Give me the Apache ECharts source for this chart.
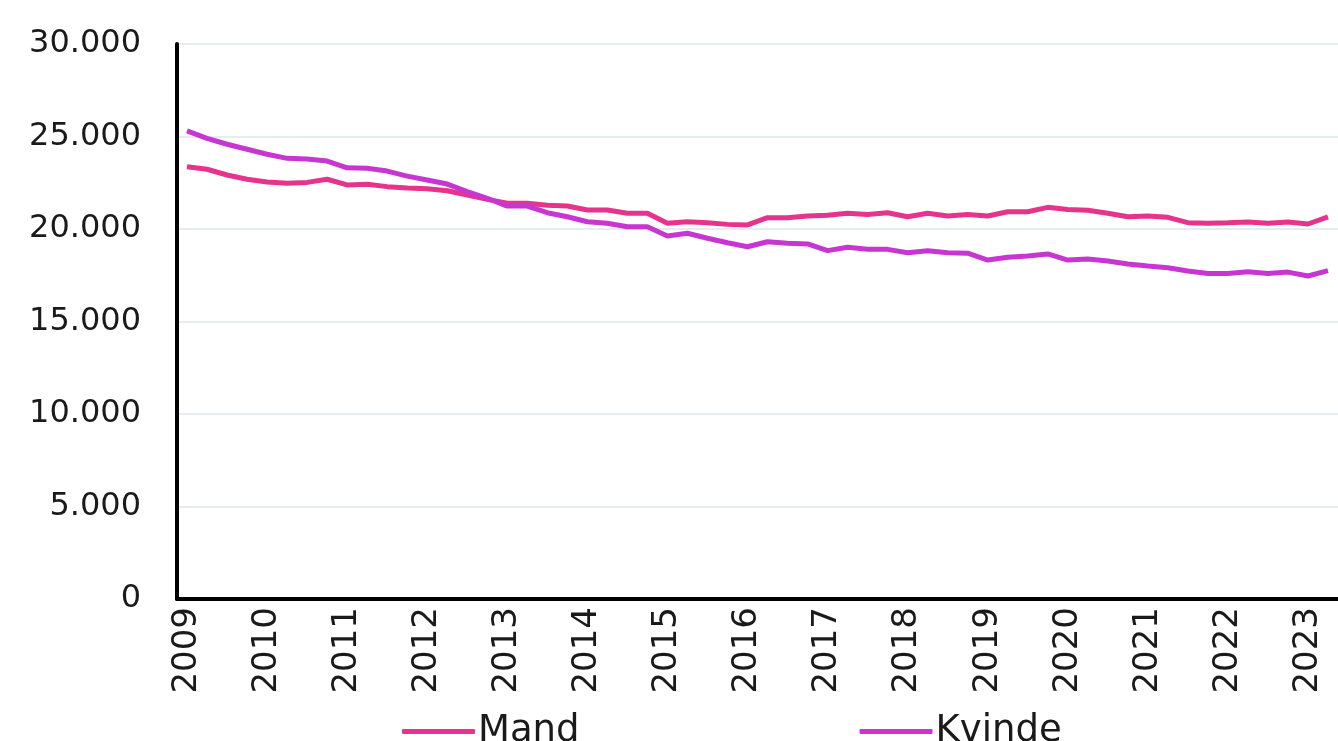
<!DOCTYPE html>
<html>
<head>
<meta charset="utf-8">
<script src="https://cdn.jsdelivr.net/npm/echarts@6/dist/echarts.min.js"></script>
<style>
  html, body { margin: 0; padding: 0; background: #fff; }
  #chart { width: 1338px; height: 741px; }
</style>
</head>
<body>
<div id="chart"></div>
<script>
// quarterly series, 2009K1 .. 2023K2 (the chart is cut off on the right)
const years = ['2009', '2010', '2011', '2012', '2013', '2014', '2015', '2016',
  '2017', '2018', '2019', '2020', '2021', '2022', '2023']
const quarterCount = 58

const mand = [
  23370, 23230, 22920, 22690, 22540, 22470, 22520, 22690,
  22380, 22420, 22290, 22220, 22180, 22070, 21840, 21600,
  21390, 21390, 21280, 21240, 21030, 21030, 20850, 20850,
  20310, 20390, 20340, 20250, 20220, 20610, 20610, 20700,
  20740, 20850, 20780, 20880, 20660, 20850, 20700, 20790,
  20700, 20930, 20930, 21170, 21060, 21010, 20850, 20660,
  20700, 20630, 20340, 20310, 20340, 20380, 20310, 20380,
  20270, 20660
]
const kvinde = [
  25300, 24900, 24580, 24310, 24040, 23820, 23780, 23670,
  23310, 23280, 23130, 22860, 22650, 22430, 22020, 21660,
  21240, 21240, 20880, 20660, 20390, 20310, 20120, 20120,
  19620, 19770, 19500, 19260, 19040, 19310, 19230, 19190,
  18830, 19010, 18900, 18900, 18720, 18830, 18720, 18690,
  18320, 18470, 18540, 18650, 18320, 18380, 18270, 18110,
  18000, 17910, 17730, 17600, 17600, 17690, 17600, 17670,
  17460, 17750
]

const categories = []
for (let i = 0; i < quarterCount; i++) {
  categories.push(years[Math.floor(i / 4)] + 'K' + (i % 4 + 1))
}

const font = 'DejaVu Sans'
const chart = echarts.init(document.getElementById('chart'))

chart.setOption({
  backgroundColor: '#ffffff',
  animation: false,
  textStyle: { fontFamily: font, color: '#1a1a1a' },
  grid: { left: 177, top: 44, bottom: 142, width: quarterCount * 20.3 },
  legend: {
    left: 397,
    top: 708,
    icon: 'roundRect',
    itemWidth: 73,
    itemHeight: 5,
    itemGap: 280,
    textStyle: { fontFamily: font, fontSize: 37, color: '#1a1a1a', padding: [0, 0, 0, -2] },
    data: ['Mand', 'Kvinde']
  },
  xAxis: {
    type: 'category',
    data: categories,
    boundaryGap: true,
    axisLine: { lineStyle: { color: '#000', width: 4 } },
    axisTick: { show: false },
    axisLabel: {
      interval: 3,
      rotate: 90,
      margin: 8,
      fontFamily: font,
      fontSize: 34,
      color: '#1a1a1a',
      formatter: (v) => v.slice(0, 4)
    },
    splitLine: { show: false }
  },
  yAxis: {
    type: 'value',
    min: 0,
    max: 30000,
    interval: 5000,
    axisLine: { show: true, lineStyle: { color: '#000', width: 4 } },
    axisTick: { show: false },
    axisLabel: {
      margin: 36,
      fontFamily: font,
      fontSize: 32,
      color: '#1a1a1a',
      formatter: (v) => v === 0 ? '0' : (v / 1000).toFixed(3)
    },
    splitLine: { lineStyle: { color: '#dde7ea', width: 1.5 } }
  },
  series: [
    {
      name: 'Mand',
      type: 'line',
      data: mand,
      showSymbol: false,
      symbol: 'none',
      lineStyle: { color: '#e6338b', width: 5 },
      itemStyle: { color: '#e6338b' }
    },
    {
      name: 'Kvinde',
      type: 'line',
      data: kvinde,
      showSymbol: false,
      symbol: 'none',
      lineStyle: { color: '#c836d2', width: 5 },
      itemStyle: { color: '#c836d2' }
    }
  ]
})
</script>
</body>
</html>
